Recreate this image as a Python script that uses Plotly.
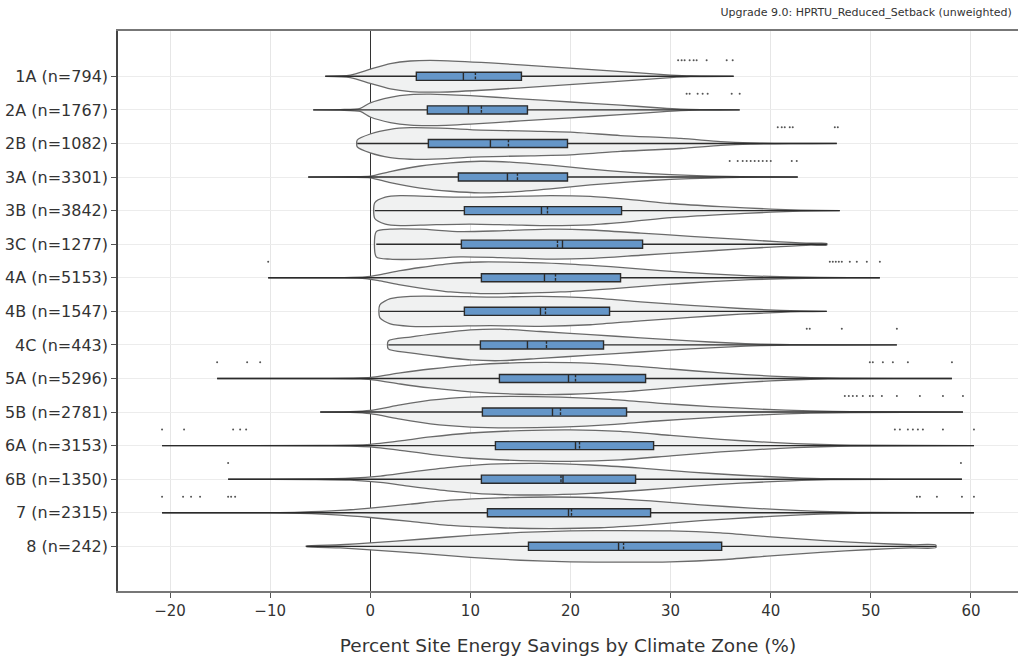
import plotly.graph_objects as go

labels = ["1A (n=794)", "2A (n=1767)", "2B (n=1082)", "3A (n=3301)", "3B (n=3842)",
          "3C (n=1277)", "4A (n=5153)", "4B (n=1547)", "4C (n=443)", "5A (n=5296)",
          "5B (n=2781)", "6A (n=3153)", "6B (n=1350)", "7 (n=2315)", "8 (n=242)"]

q1 = [4.6, 5.7, 5.8, 8.8, 9.4, 9.1, 11.1, 9.4, 11.0, 12.9, 11.2, 12.5, 11.1, 11.7, 15.8]
median = [9.3, 9.8, 12.0, 13.7, 17.1, 19.2, 17.4, 17.0, 15.7, 19.8, 18.2, 20.5, 19.25, 19.8, 24.8]
mean = [10.5, 11.1, 13.8, 14.7, 17.7, 18.7, 18.5, 17.5, 17.6, 20.5, 19.0, 20.9, 19.05, 20.1, 25.3]
q3 = [15.1, 15.7, 19.7, 19.7, 25.1, 27.2, 25.0, 23.9, 23.3, 27.5, 25.6, 28.3, 26.5, 28.0, 35.1]
data_min = [-4.5, -5.7, -1.3, -6.2, 0.45, 0.6, -10.2, 0.95, 1.8, -15.3, -5.0, -20.8, -14.2, -20.8, -6.4]
data_max = [36.3, 36.9, 46.6, 42.7, 46.9, 45.6, 50.9, 45.6, 52.6, 58.1, 59.2, 60.3, 59.1, 60.3, 56.5]

outliers = [
    [30.75, 31.1, 31.4, 31.9, 32.3, 32.6, 33.6, 35.6, 36.2],
    [31.6, 31.9, 32.7, 33.2, 33.7, 36.1, 36.9],
    [40.7, 41.1, 41.4, 41.9, 42.2, 46.4, 46.7],
    [35.9, 36.7, 37.2, 37.6, 38.0, 38.4, 38.8, 39.2, 39.6, 40.0, 42.1, 42.6],
    [],
    [],
    [-10.2, 45.9, 46.2, 46.5, 46.8, 47.1, 47.9, 48.6, 49.6, 50.9],
    [],
    [43.6, 43.9, 47.1, 52.6],
    [-15.3, -12.3, -11.0, 49.9, 50.2, 51.2, 52.2, 53.7, 58.1],
    [47.4, 47.8, 48.2, 48.6, 49.2, 49.9, 50.2, 51.1, 52.6, 54.9, 57.2, 59.2],
    [-20.8, -18.6, -13.7, -13.0, -12.4, 52.4, 52.9, 53.7, 54.2, 54.7, 55.2, 57.2, 60.3],
    [-14.2, 59.0],
    [-20.8, -18.7, -17.9, -17.0, -14.2, -13.9, -13.5, 54.6, 54.9, 56.6, 59.1, 60.3],
    [],
]

# violin outline profiles: x positions and relative density (1 = widest)
prof_x = [
    [-4.5, -2, 0, 2, 4, 7, 12, 18, 24, 30, 32, 36.3],
    [-5.7, -3, -1, 0, 2, 4, 6, 10, 15, 20, 25, 29, 31, 33, 36.9],
    [-1.3, 0, 2, 4, 7, 11, 16, 20, 25, 31, 35, 38, 42, 46.6],
    [-6.2, -2, 0, 2, 5, 8, 11, 14, 18, 22, 26, 30, 34, 37, 42.7],
    [0.45, 1.5, 3, 6, 10, 14, 18, 22, 26, 30, 35, 40, 43, 46.9],
    [0.6, 2, 5, 9, 13, 18, 22, 27, 32, 37, 41, 44, 45.6],
    [-10.2, -3, -0.5, 1, 3, 5, 8, 11, 15, 19, 24, 29, 34, 38, 42, 45, 50.9],
    [0.95, 2, 4, 8, 12, 17, 22, 27, 32, 37, 41, 43, 45.6],
    [1.8, 4, 7, 10, 13, 17, 22, 27, 32, 36, 39, 42, 52.6],
    [-15.3, -5, -1, 0.5, 3, 6, 10, 15, 20, 25, 30, 35, 40, 44, 47, 58.1],
    [-5.0, -2, 0, 3, 6, 10, 14, 19, 24, 29, 34, 39, 44, 48, 59.2],
    [-20.8, -5, -2, 0, 3, 6, 10, 15, 20, 25, 30, 35, 40, 45, 48, 60.3],
    [-14.2, -6, -2, 1, 4, 8, 12, 17, 22, 27, 32, 37, 42, 46, 59.1],
    [-20.8, -10, -7, -3, 0, 4, 8, 13, 18, 23, 28, 33, 38, 43, 47, 50, 60.3],
    [-6.4, -3, 0, 5, 10, 15, 20, 25, 30, 35, 40, 45, 50, 54, 56.5],
]
prof_d = [
    [0, 0.08, 0.45, 0.8, 0.97, 1.0, 0.85, 0.6, 0.35, 0.08, 0.02, 0],
    [0, 0.02, 0.1, 0.45, 0.8, 0.97, 1.0, 0.9, 0.7, 0.5, 0.3, 0.12, 0.05, 0.02, 0],
    [0.22, 0.6, 0.9, 1.0, 0.97, 0.85, 0.78, 0.72, 0.5, 0.32, 0.12, 0.04, 0.01, 0],
    [0, 0.02, 0.05, 0.35, 0.7, 0.9, 1.0, 0.95, 0.75, 0.5, 0.3, 0.15, 0.06, 0.02, 0],
    [0.5, 0.85, 0.95, 0.9, 0.85, 0.9, 0.95, 0.9, 0.7, 0.45, 0.25, 0.1, 0.03, 0],
    [0.8, 0.95, 0.95, 0.8, 0.85, 0.95, 0.9, 0.7, 0.5, 0.3, 0.15, 0.06, 0.05],
    [0, 0.01, 0.05, 0.2, 0.45, 0.65, 0.9, 1.0, 0.98, 0.9, 0.7, 0.45, 0.25, 0.12, 0.05, 0.02, 0],
    [0.4, 0.8, 0.95, 0.95, 0.9, 0.95, 0.85, 0.6, 0.38, 0.18, 0.06, 0.02, 0],
    [0.25, 0.5, 0.75, 0.95, 1.0, 0.85, 0.65, 0.45, 0.25, 0.12, 0.05, 0.02, 0],
    [0, 0.01, 0.03, 0.1, 0.35, 0.6, 0.85, 1.0, 1.0, 0.85, 0.6, 0.35, 0.15, 0.05, 0.02, 0],
    [0, 0.02, 0.1, 0.45, 0.75, 0.95, 1.0, 0.95, 0.8, 0.55, 0.35, 0.18, 0.07, 0.03, 0],
    [0, 0.01, 0.03, 0.08, 0.3, 0.55, 0.8, 0.95, 1.0, 0.9, 0.65, 0.4, 0.2, 0.07, 0.03, 0],
    [0, 0.02, 0.06, 0.2, 0.45, 0.75, 0.95, 1.0, 0.9, 0.7, 0.45, 0.25, 0.1, 0.03, 0],
    [0, 0.01, 0.04, 0.15, 0.3, 0.55, 0.8, 0.95, 1.0, 0.95, 0.75, 0.5, 0.3, 0.13, 0.05, 0.02, 0],
    [0.02, 0.1, 0.22, 0.45, 0.7, 0.88, 0.98, 1.0, 0.98, 0.85, 0.6, 0.38, 0.2, 0.1, 0.08],
]

x_ticks = [-20, -10, 0, 10, 20, 30, 40, 50, 60]

HALF = 0.47
Y_RANGE = [15.33, -1.35]
fig = go.Figure()

for i in range(len(labels)):
    xs = prof_x[i]
    ws = [d * HALF for d in prof_d[i]]
    px = list(xs) + list(xs[::-1])
    py = [i - w for w in ws] + [i + w for w in ws[::-1]]
    fig.add_trace(go.Scatter(
        x=px + [px[0]], y=py + [py[0]], mode="lines", fill="toself",
        fillcolor="#f0f1f1", line=dict(color="#6a6a6a", width=1.3, shape="spline", smoothing=0.7),
        hoverinfo="skip", showlegend=False, xaxis="x", yaxis="y"))

fig.add_trace(go.Box(
    y=list(range(len(labels))), q1=q1, median=median, q3=q3,
    lowerfence=data_min, upperfence=data_max, mean=mean,
    orientation="h", width=0.24, boxpoints=False, boxmean=True,
    whiskerwidth=0, fillcolor="#6596c8",
    line=dict(color="#2b2b2b", width=1.4), showlegend=False,
    xaxis="x", yaxis="y2"))

ox, oy = [], []
for i, vals in enumerate(outliers):
    for v in vals:
        ox.append(v)
        oy.append(i - 0.48)
fig.add_trace(go.Scatter(x=ox, y=oy, mode="markers",
                         marker=dict(size=2, color="#555555"),
                         showlegend=False, hoverinfo="skip", xaxis="x", yaxis="y2"))

fig.update_layout(
    width=1018, height=660,
    margin=dict(l=118, r=0, t=31, b=69),
    paper_bgcolor="white", plot_bgcolor="white",
    font=dict(family="DejaVu Sans, Verdana, sans-serif", color="#333333", size=14),
    title=dict(text="Upgrade 9.0: HPRTU_Reduced_Setback (unweighted)",
               x=0.994, xanchor="right", xref="container",
               y=0.982, yanchor="middle", yref="container",
               font=dict(size=11, color="#333333")),
    xaxis=dict(range=[-25.2, 64.7], tickvals=x_ticks, showgrid=True,
               gridcolor="#e6e6e6", gridwidth=1,
               zeroline=True, zerolinecolor="#333333", zerolinewidth=1,
               showline=True, linecolor="#777777", linewidth=2, mirror=True,
               ticks="outside", ticklen=5, tickcolor="#555555",
               tickfont=dict(size=15),
               title=dict(text="Percent Site Energy Savings by Climate Zone (%)",
                          font=dict(size=18.5), standoff=20)),
    yaxis=dict(range=Y_RANGE, tickvals=list(range(len(labels))), ticktext=labels,
               showgrid=True, gridcolor="#ececec", gridwidth=1, zeroline=False,
               showline=True, linecolor="#444444", linewidth=1.5,
               ticks="outside", ticklen=5, tickcolor="#555555",
               tickfont=dict(size=16)),
    yaxis2=dict(range=Y_RANGE, overlaying="y", visible=False, showgrid=False,
                zeroline=False),
)

fig.write_html("out.html")
